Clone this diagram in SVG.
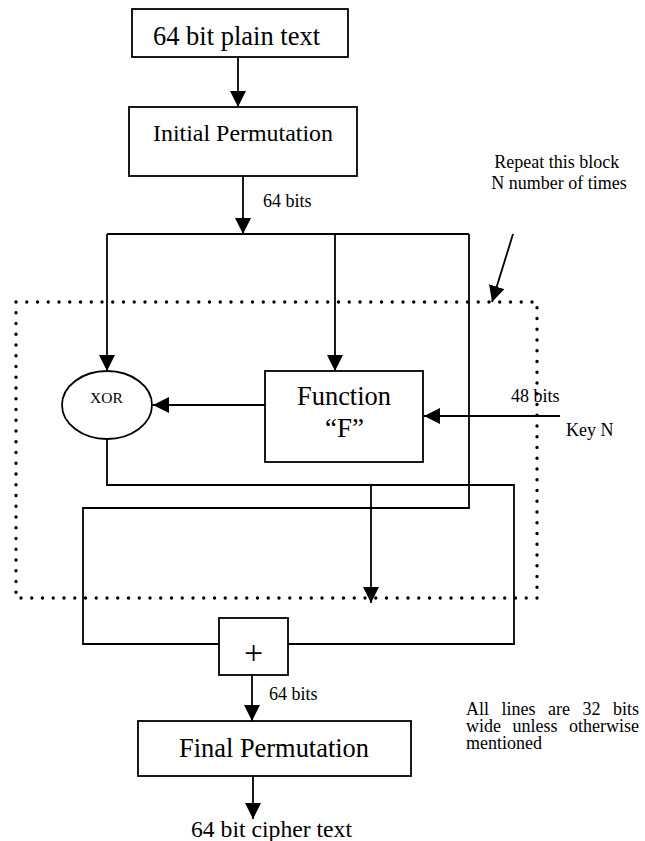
<svg xmlns="http://www.w3.org/2000/svg" width="645" height="841" viewBox="0 0 645 841">
  <style>
    .box { fill: #fff; stroke: #000; stroke-width: 1.8; }
    .wire { fill: none; stroke: #000; stroke-width: 1.8; }
    .arrow { fill: none; stroke: #000; stroke-width: 1.8; marker-end: url(#head); }
    .round { fill: none; stroke: #000; stroke-width: 3.4; stroke-linecap: round; stroke-dasharray: 0 10.75; }
    text { font-family: "Liberation Serif", "Times New Roman", serif; fill: #000; }
    .big { font-size: 26.5px; }
    .mid { font-size: 24px; }
    .small { font-size: 18px; }
  </style>
  <defs>
    <marker id="head" markerUnits="userSpaceOnUse" markerWidth="17" markerHeight="17" refX="16" refY="8" orient="auto">
      <path d="M0,0 L16,8 L0,16 Z" fill="#000"/>
    </marker>
  </defs>

  <!-- repeated round boundary -->
  <g id="round-boundary">
    <rect class="round" x="16" y="302" width="521" height="296"/>
  </g>

  <!-- connectors -->
  <g id="connectors">
    <line class="arrow" x1="238" y1="57" x2="238" y2="107"/>
    <line class="arrow" x1="243" y1="176" x2="243" y2="234"/>
    <line class="wire" x1="107" y1="234" x2="469" y2="234"/>
    <line class="arrow" x1="107" y1="234" x2="107" y2="371"/>
    <line class="arrow" x1="335" y1="234" x2="335" y2="371"/>
    <polyline class="wire" points="469,234 469,508 83,508 83,644 219,644"/>
    <line class="arrow" x1="265" y1="405" x2="153" y2="405"/>
    <line class="arrow" x1="560" y1="416" x2="424" y2="416"/>
    <polyline class="wire" points="107,439 107,485 514,485 514,644 288,644"/>
    <line class="arrow" x1="371" y1="485" x2="371" y2="603"/>
    <line class="arrow" x1="252" y1="675" x2="252" y2="721"/>
    <line class="arrow" x1="253" y1="776" x2="253" y2="819"/>
    <line class="arrow" x1="513" y1="234" x2="492" y2="302"/>
  </g>

  <!-- nodes -->
  <g id="plain-text">
    <rect class="box" x="132" y="9" width="216" height="48"/>
    <text class="big" x="153" y="45" textLength="167" lengthAdjust="spacingAndGlyphs">64 bit plain text</text>
  </g>
  <g id="initial-permutation">
    <rect class="box" x="129" y="107" width="228" height="69"/>
    <text class="mid" x="153" y="141" textLength="180" lengthAdjust="spacingAndGlyphs">Initial Permutation</text>
  </g>
  <g id="xor">
    <ellipse class="box" cx="107" cy="405" rx="45" ry="34"/>
    <text x="90" y="403" font-size="15.5">XOR</text>
  </g>
  <g id="function-f">
    <rect class="box" x="265" y="371" width="158" height="91"/>
    <text class="big" x="297" y="405" textLength="94" lengthAdjust="spacingAndGlyphs">Function</text>
    <text class="big" x="325" y="437" textLength="39" lengthAdjust="spacingAndGlyphs">“F”</text>
  </g>
  <g id="adder">
    <rect class="box" x="219" y="618" width="69" height="57"/>
    <text x="253.5" y="664" font-size="34" text-anchor="middle">+</text>
  </g>
  <g id="final-permutation">
    <rect class="box" x="138" y="721" width="273" height="55"/>
    <text class="big" x="179" y="757" textLength="190" lengthAdjust="spacingAndGlyphs">Final Permutation</text>
  </g>
  <g id="cipher-text">
    <text class="mid" x="191" y="837" textLength="161" lengthAdjust="spacingAndGlyphs">64 bit cipher text</text>
  </g>

  <!-- labels -->
  <g id="labels">
    <text class="small" x="263" y="207">64 bits</text>
    <text class="small" x="269" y="700">64 bits</text>
    <text class="small" x="511" y="402">48 bits</text>
    <text class="small" x="566" y="436">Key N</text>
    <text class="small" text-anchor="middle">
      <tspan x="559" y="168">Repeat this block</tspan>
      <tspan x="559" y="189">N number of times</tspan>
    </text>
    <!-- justified note: extra word spacing fills the column -->
    <text id="note" class="small">
      <tspan x="466" y="715" word-spacing="8">All lines are 32 bits</tspan>
      <tspan x="466" y="732" word-spacing="7">wide unless otherwise</tspan>
      <tspan x="466" y="749">mentioned</tspan>
    </text>
  </g>
</svg>
